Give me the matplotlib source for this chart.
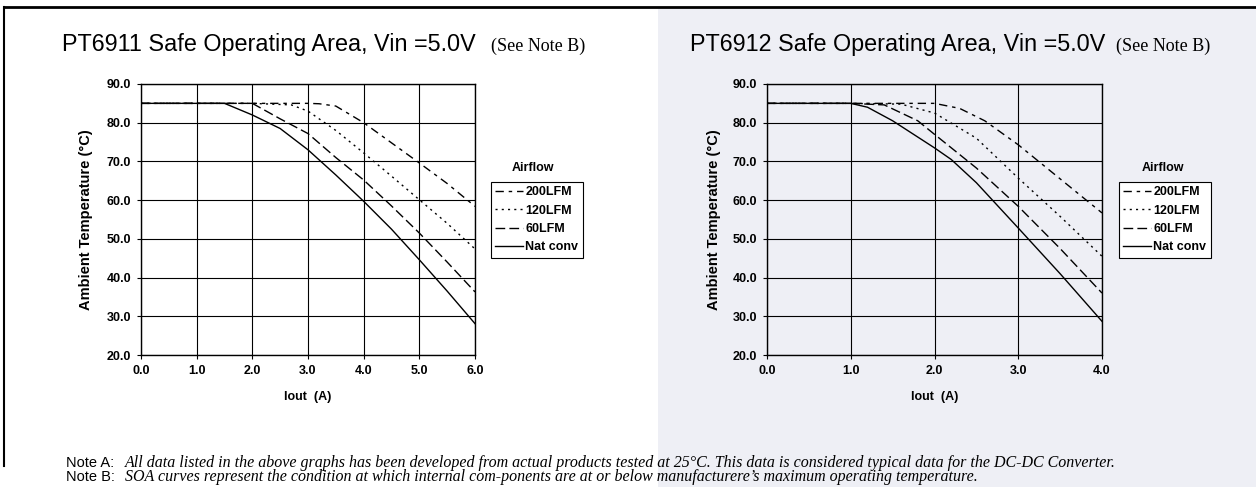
import numpy as np
import matplotlib
matplotlib.use('Agg')
import matplotlib.pyplot as plt
from matplotlib.lines import Line2D
from matplotlib.patches import Rectangle

W, H = 1256, 487

# PT6911, Iout 0..6 A
x11 = [0.0, 1.0, 1.5, 2.0, 2.5, 3.0, 3.5, 4.0, 4.5, 5.0, 5.5, 6.0]
nat11 = [85.0, 85.0, 85.0, 82.0, 78.5, 73.0, 66.5, 59.7, 52.5, 44.6, 36.5, 28.1]
x11b = [0.0, 1.0, 2.0, 2.5, 3.0, 3.5, 4.0, 4.5, 5.0, 5.5, 6.0]
lfm60_11 = [85.0, 85.0, 85.0, 81.0, 77.2, 71.0, 65.2, 58.5, 51.5, 44.0, 36.3]
x11c = [0.0, 1.0, 2.0, 2.7, 3.0, 3.5, 4.0, 4.5, 5.0, 5.5, 6.0]
lfm120_11 = [85.0, 85.0, 85.0, 84.6, 83.0, 78.0, 72.2, 66.2, 60.1, 54.0, 47.4]
x11d = [0.0, 1.0, 2.0, 3.0, 3.2, 3.5, 4.0, 4.5, 5.0, 5.5, 6.0]
lfm200_11 = [85.0, 85.0, 85.0, 85.0, 84.9, 84.3, 80.0, 74.8, 69.6, 64.3, 58.4]

# PT6912, Iout 0..4 A
x12 = [0.0, 0.5, 1.0, 1.2, 1.5, 2.0, 2.2, 2.5, 3.0, 3.5, 4.0]
nat12 = [85.0, 85.0, 85.0, 84.0, 80.5, 73.5, 70.5, 64.5, 52.8, 41.0, 28.7]
x12b = [0.0, 0.5, 1.0, 1.4, 1.8, 2.0, 2.5, 3.0, 3.5, 4.0]
lfm60_12 = [85.0, 85.0, 85.0, 84.6, 80.5, 77.0, 68.3, 58.4, 47.5, 36.0]
x12c = [0.0, 0.5, 1.0, 1.6, 2.0, 2.5, 3.0, 3.5, 4.0]
lfm120_12 = [85.0, 85.0, 85.0, 84.8, 82.5, 76.0, 65.7, 55.8, 45.5]
x12d = [0.0, 0.5, 1.0, 1.5, 2.0, 2.3, 2.6, 3.0, 3.5, 4.0]
lfm200_12 = [85.0, 85.0, 85.0, 85.0, 85.0, 83.7, 80.5, 74.3, 65.5, 56.7]

labels = ['200LFM', '120LFM', '60LFM', 'Nat conv']
styles = [(0, (6, 3.5, 2.5, 3.5)), (0, (1.5, 3)), (0, (7, 3)), '-']

fig = plt.figure(figsize=(W / 100, H / 100), dpi=100)

def fx(px):
    return px / W

def fy(py):
    return 1 - py / H

# background and page border
fig.add_artist(Rectangle((fx(658), 0), 1 - fx(658), fy(9), transform=fig.transFigure,
                         facecolor='#eeeff5', edgecolor='none', zorder=0))
fig.add_artist(Line2D([fx(4), 1], [fy(7), fy(7)], color='black', lw=2))
fig.add_artist(Line2D([fx(4), fx(4)], [fy(7), fy(466)], color='black', lw=1.5))

def panel(left_px, right_px, xmax, series, name, title_x, note_x, leg_x, air_x, ylab_x):
    ax = fig.add_axes([fx(left_px), fy(355), fx(right_px - left_px), (355 - 84) / H])
    ax.set_facecolor('none')
    for (xs, ys), lab, ls in zip(series, labels, styles):
        ax.plot(xs, ys, color='black', lw=1.0, linestyle=ls, label=lab)
    ax.set_xlim(0, xmax)
    ax.set_ylim(20, 90)
    ax.set_xticks(np.arange(0, xmax + 0.1, 1.0))
    ax.set_yticks(np.arange(20, 91, 10))
    ax.set_xticklabels(['%.1f' % v for v in np.arange(0, xmax + 0.1, 1.0)])
    ax.set_yticklabels(['%.1f' % v for v in np.arange(20, 91, 10)])
    ax.grid(True, color='black', lw=0.8)
    for s in ax.spines.values():
        s.set_linewidth(1.0)
    ax.tick_params(direction='out', length=3, width=0.8, labelsize=9, pad=4)
    for t in ax.get_xticklabels() + ax.get_yticklabels():
        t.set_fontweight('bold')
        t.set_family('Liberation Sans')
    ax.set_xlabel('Iout  (A)', fontsize=9, fontweight='bold', family='Liberation Sans', labelpad=10)
    ax.set_ylabel('Ambient Temperature (°C)', fontsize=10.5, fontweight='bold', family='Liberation Sans')
    ax.yaxis.set_label_coords((ylab_x - left_px) / (right_px - left_px), 0.5)
    fig.text(fx(title_x), fy(45), name, fontsize=16.8, family='Liberation Sans', va='center')
    fig.text(fx(note_x), fy(46), '(See Note B)', fontsize=13, family='Liberation Serif', va='center')
    fig.text(fx(air_x), fy(168), 'Airflow', fontsize=9, fontweight='bold', family='Liberation Sans',
             ha='center', va='center')
    leg = ax.legend(loc='upper left', bbox_to_anchor=(fx(leg_x), fy(182)), bbox_transform=fig.transFigure,
                    frameon=True, fancybox=False, edgecolor='black', framealpha=1,
                    prop={'family': 'Liberation Sans', 'weight': 'bold', 'size': 9},
                    handlelength=2.2, handletextpad=0.2, borderpad=0.35, labelspacing=0.5,
                    borderaxespad=0)
    leg.get_frame().set_linewidth(0.8)
    leg.get_frame().set_facecolor('white')
    return ax

panel(141, 475, 6.0,
      [(x11d, lfm200_11), (x11c, lfm120_11), (x11b, lfm60_11), (x11, nat11)],
      'PT6911 Safe Operating Area, Vin =5.0V', 62, 491, 491, 533, 93)
panel(767, 1102, 4.0,
      [(x12d, lfm200_12), (x12c, lfm120_12), (x12b, lfm60_12), (x12, nat12)],
      'PT6912 Safe Operating Area, Vin =5.0V', 690, 1116, 1119, 1163, 721)

notes = [('Note A:', 'All data listed in the above graphs has been developed from actual products tested at 25°C. '
                     'This data is considered typical data for the DC-DC Converter.'),
         ('Note B:', 'SOA curves represent the condition at which internal com-ponents are at or below '
                     'manufacturere\u2019s maximum operating temperature.')]
for i, (k, txt) in enumerate(notes):
    y = fy(463 + i * 14)
    fig.text(fx(66), y, k, fontsize=10.5, family='Liberation Sans', va='center')
    fig.text(fx(125), y, txt, fontsize=11.5, family='Liberation Serif', style='italic', va='center')

fig.savefig('out.png', dpi=100)
